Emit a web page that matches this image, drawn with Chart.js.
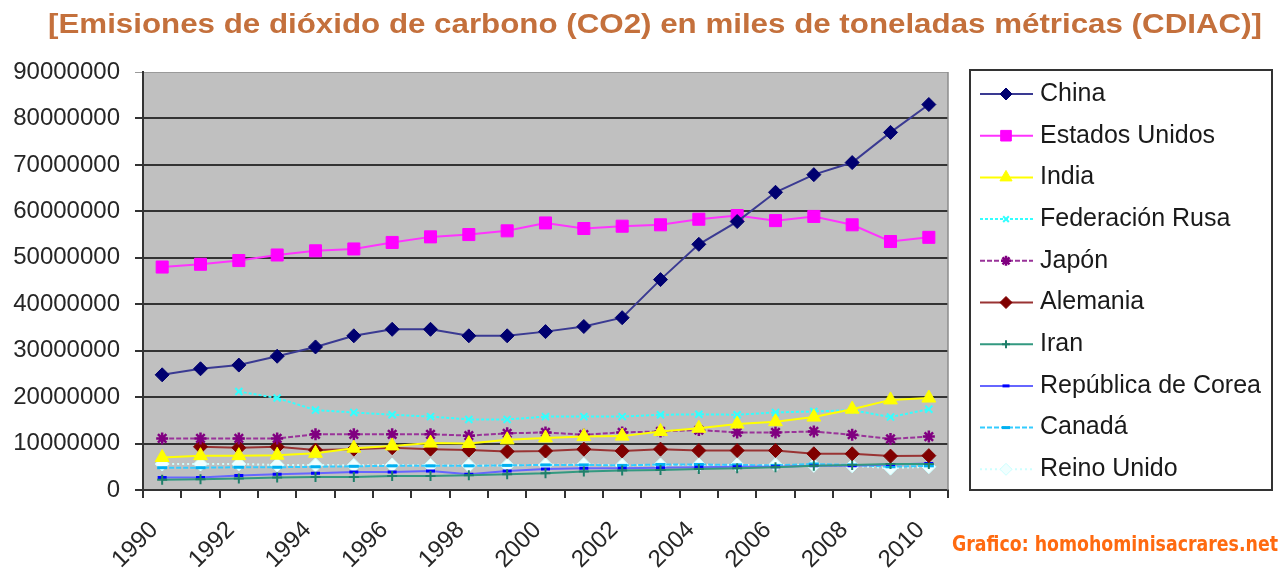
<!DOCTYPE html>
<html>
<head>
<meta charset="utf-8">
<script src="https://cdn.jsdelivr.net/npm/chart.js@4.4.0/dist/chart.umd.min.js"></script>
<style>
  html, body { margin: 0; padding: 0; background: #fff; }
  #wrap { width: 1286px; height: 571px; position: relative; }
</style>
</head>
<body>
<div id="wrap"><canvas id="c" width="1286" height="571"></canvas></div>
<script>
const years = ['1990','1991','1992','1993','1994','1995','1996','1997','1998','1999','2000',
  '2001','2002','2003','2004','2005','2006','2007','2008','2009','2010'];

const yTicks = [0, 10000000, 20000000, 30000000, 40000000, 50000000, 60000000, 70000000, 80000000, 90000000];

const china = [24800000, 26100000, 26900000, 28800000, 30800000, 33200000, 34600000, 34600000, 33200000, 33200000, 34100000,
  35200000, 37100000, 45300000, 52900000, 57800000, 64100000, 67900000, 70500000, 77000000, 83000000];
const estadosUnidos = [48000000, 48600000, 49400000, 50600000, 51500000, 51900000, 53300000, 54500000, 55000000, 55800000, 57500000,
  56300000, 56800000, 57100000, 58300000, 59100000, 58000000, 58900000, 57100000, 53500000, 54400000];
const india = [7000000, 7400000, 7400000, 7500000, 7900000, 9000000, 9500000, 10100000, 10000000, 10800000, 11200000,
  11500000, 11600000, 12600000, 13300000, 14200000, 14700000, 15700000, 17400000, 19400000, 19800000];
const rusia = [null, null, 21200000, 19800000, 17200000, 16700000, 16200000, 15800000, 15200000, 15200000, 15800000,
  15800000, 15800000, 16200000, 16300000, 16200000, 16700000, 16900000, 17200000, 15700000, 17400000];
const japon = [11100000, 11100000, 11100000, 11100000, 12000000, 12000000, 12000000, 12000000, 11700000, 12200000, 12400000,
  11900000, 12400000, 12600000, 12900000, 12400000, 12400000, 12600000, 11900000, 11000000, 11500000];
const alemania = [null, 9300000, 9100000, 9300000, 8600000, 8800000, 9100000, 8800000, 8600000, 8300000, 8400000,
  8800000, 8400000, 8800000, 8500000, 8500000, 8500000, 7800000, 7800000, 7300000, 7400000];
const iran = [2200000, 2300000, 2500000, 2700000, 2800000, 2800000, 3000000, 3000000, 3200000, 3400000, 3600000,
  4000000, 4200000, 4300000, 4500000, 4700000, 4900000, 5200000, 5400000, 5600000, 5600000];
const corea = [2700000, 2700000, 3100000, 3400000, 3600000, 3900000, 3900000, 4100000, 3400000, 4100000, 4500000,
  4700000, 4700000, 4800000, 4900000, 5000000, 5000000, 5200000, 5200000, 5500000, 5700000];
const canada = [4800000, 4800000, 4900000, 4900000, 5000000, 5100000, 5200000, 5200000, 5200000, 5300000, 5400000,
  5400000, 5300000, 5500000, 5500000, 5400000, 5300000, 5600000, 5400000, 5000000, 5200000];
const reinoUnido = [5600000, 5600000, 5600000, 5400000, 5400000, 5300000, 5400000, 5300000, 5300000, 5300000, 5400000,
  5500000, 5300000, 5400000, 5400000, 5400000, 5400000, 5300000, 5200000, 4700000, 5000000];

const FONT = "'Liberation Sans', Arial, sans-serif";
const TITLE = '[Emisiones de dióxido de carbono (CO2) en miles de toneladas métricas (CDIAC)]';

function serie(label, data, line, point, style, radius, extra) {
  return Object.assign({
    label, data,
    borderColor: line,
    backgroundColor: point,
    pointBackgroundColor: point,
    pointBorderColor: point,
    pointStyle: style,
    pointRadius: radius,
    pointBorderWidth: 1,
    borderWidth: 2,
    tension: 0,
    spanGaps: false
  }, extra || {});
}

const datasets = [
  serie('China', china, '#3a3a92', '#000070', 'rectRot', 7),
  serie('Estados Unidos', estadosUnidos, '#ff33ff', '#ff00ff', 'rect', 8.5),
  serie('India', india, '#ffff00', '#ffff00', 'triangle', 8),
  serie('Federación Rusa', rusia, '#33ffff', '#33ffff', 'crossRot', 5, { pointBorderWidth: 2, borderDash: [3, 2] }),
  serie('Japón', japon, '#993399', '#800080', 'star', 6, { pointBorderWidth: 2.5, borderDash: [5, 2] }),
  serie('Alemania', alemania, '#993333', '#800000', 'rectRot', 7),
  serie('Iran', iran, '#339980', '#1f7f6a', 'cross', 5, { pointBorderWidth: 2 }),
  serie('República de Corea', corea, '#6666ff', '#0000ff', 'line', 4.5, { pointBorderWidth: 3 }),
  serie('Canadá', canada, '#33ccff', '#00b0f0', 'line', 5, { pointBorderWidth: 3, borderDash: [5, 2] }),
  serie('Reino Unido', reinoUnido, '#ccffff', '#ccffff', 'rectRot', 7, { pointBackgroundColor: '#f0ffff', borderDash: [2, 3] })
];

// gray plot area, right border, title, custom legend box and credit
const decor = {
  id: 'decor',
  beforeDraw(chart) {
    const { ctx, chartArea: a } = chart;
    ctx.save();
    ctx.fillStyle = '#fff';
    ctx.fillRect(0, 0, chart.width, chart.height);
    ctx.fillStyle = '#c0c0c0';
    ctx.fillRect(a.left, a.top, a.right - a.left, a.bottom - a.top);
    ctx.restore();
  },
  beforeDatasetsDraw(chart) {
    const { ctx, chartArea: a } = chart;
    ctx.save();
    ctx.strokeStyle = '#8c8c8c';
    ctx.lineWidth = 1.5;
    ctx.beginPath();
    ctx.moveTo(a.right, a.top);
    ctx.lineTo(a.right, a.bottom);
    ctx.stroke();
    ctx.restore();
  },
  afterDraw(chart) {
    const ctx = chart.ctx;
    ctx.save();
    // title, stretched to the width it has in the original
    ctx.fillStyle = '#c4703c';
    ctx.font = 'bold 28px ' + FONT;
    ctx.textAlign = 'center';
    ctx.textBaseline = 'middle';
    const tw = ctx.measureText(TITLE).width;
    ctx.save();
    ctx.translate(655, 25);
    ctx.scale(1214 / tw, 1);
    ctx.fillText(TITLE, 0, 0);
    ctx.restore();

    // legend
    ctx.fillStyle = '#fff';
    ctx.fillRect(970, 70, 302, 420);
    ctx.strokeStyle = '#333';
    ctx.lineWidth = 2;
    ctx.strokeRect(970, 70, 302, 420);
    ctx.font = '25px ' + FONT;
    ctx.textAlign = 'left';
    ctx.textBaseline = 'middle';
    chart.data.datasets.forEach((ds, i) => {
      const y = 94 + i * 41.7;
      ctx.save();
      ctx.strokeStyle = ds.borderColor;
      ctx.lineWidth = 2;
      ctx.setLineDash(ds.borderDash || []);
      ctx.beginPath();
      ctx.moveTo(980, y);
      ctx.lineTo(1033, y);
      ctx.stroke();
      ctx.setLineDash([]);
      ctx.fillStyle = ds.pointBackgroundColor;
      ctx.strokeStyle = ds.pointBorderColor;
      ctx.lineWidth = ds.pointBorderWidth;
      Chart.helpers.drawPoint(ctx, {
        pointStyle: ds.pointStyle,
        radius: Math.max(ds.pointRadius - 1, 3.5),
        rotation: 0,
        borderWidth: ds.pointBorderWidth
      }, 1006, y);
      ctx.restore();
      ctx.fillStyle = '#1a1a1a';
      ctx.fillText(ds.label, 1040, y);
    });

    // credit
    ctx.fillStyle = '#ff6a10';
    ctx.font = "bold 21px 'Liberation Sans Narrow', 'DejaVu Sans Condensed', sans-serif";
    ctx.textAlign = 'left';
    ctx.fillText('Grafico: homohominisacrares.net', 952, 546, 326);
    ctx.restore();
  }
};

new Chart(document.getElementById('c'), {
  type: 'line',
  data: { labels: years, datasets },
  options: {
    responsive: false,
    devicePixelRatio: 1,
    animation: false,
    layout: { padding: { top: 72, left: 0, right: 0, bottom: 0 } },
    plugins: {
      legend: { display: false },
      title: { display: false },
      tooltip: { enabled: false }
    },
    scales: {
      x: {
        type: 'category',
        offset: true,
        grid: { offset: true, drawOnChartArea: false, color: '#333', tickLength: 8, lineWidth: 2 },
        border: { color: '#333', width: 2 },
        ticks: {
          autoSkip: false,
          minRotation: 45,
          maxRotation: 45,
          padding: 18,
          labelOffset: -8,
          color: '#262626',
          font: { family: FONT, size: 24 },
          callback: (v, i) => (i % 2 === 0 ? years[i] : '')
        },
        afterFit: s => { s.height = 81; }
      },
      y: {
        min: 0,
        max: 90000000,
        afterBuildTicks: s => { s.ticks = yTicks.map(v => ({ value: v })); },
        grid: {
          color: c => (c.tick && c.tick.value === 90000000 ? '#9a9a9a' : '#333'),
          lineWidth: c => (c.tick && c.tick.value === 90000000 ? 1 : 2),
          tickLength: 8
        },
        border: { color: '#333', width: 2 },
        ticks: {
          padding: 15,
          color: '#262626',
          font: { family: FONT, size: 24 },
          callback: v => String(v)
        },
        afterFit: s => { s.width = 143; }
      },
      yRight: {
        position: 'right',
        display: true,
        grid: { display: false },
        border: { display: false },
        ticks: { display: false },
        afterFit: s => { s.width = 338; }
      }
    }
  },
  plugins: [decor]
});
</script>
</body>
</html>
